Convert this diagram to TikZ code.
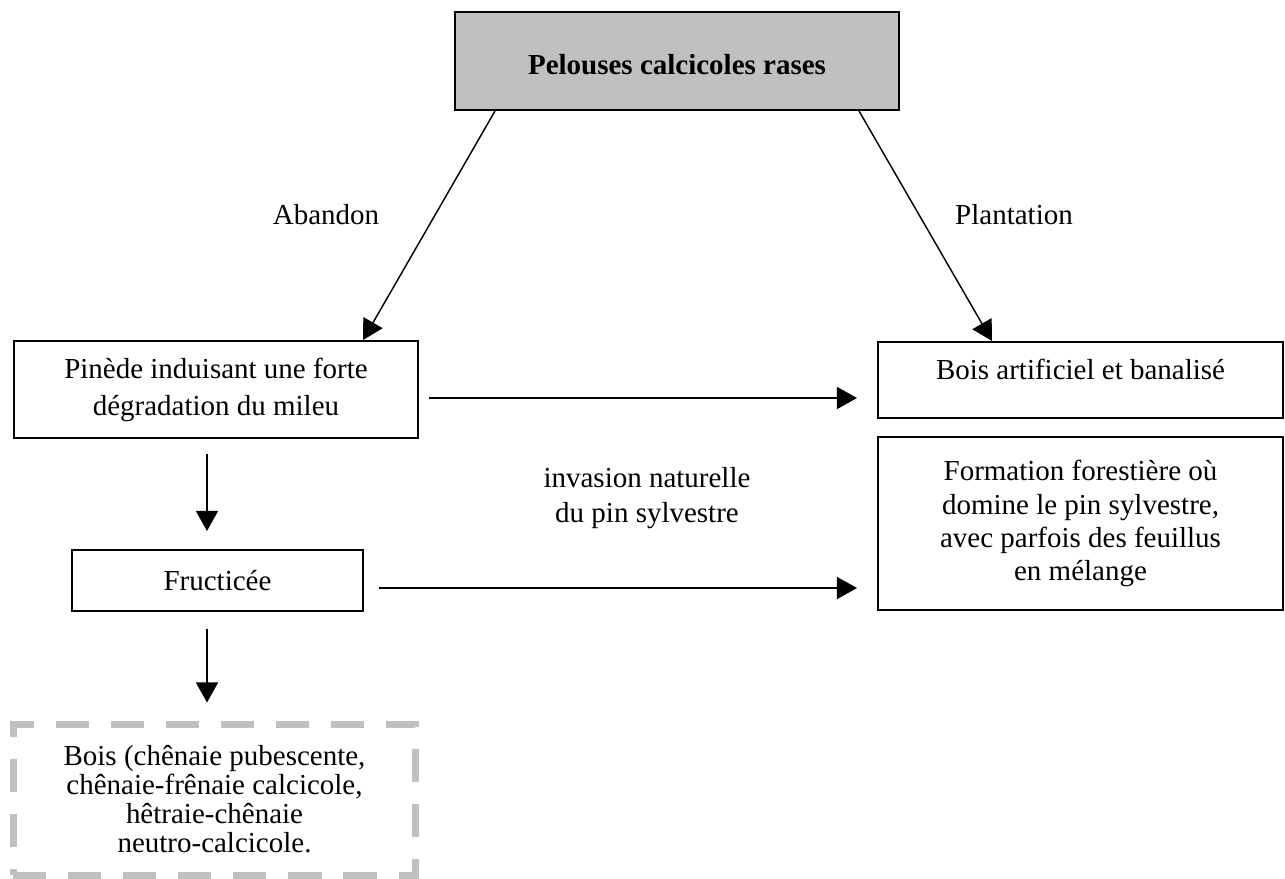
\documentclass[tikz,border=0pt]{standalone}
\usepackage{fontspec}
\setmainfont{Liberation Serif}
\usepackage{tikz}
\usetikzlibrary{arrows.meta, calc, positioning}

\definecolor{lightgrey}{HTML}{C0C0C0}

\begin{document}
\begin{tikzpicture}[x=0.414pt, y=-0.414pt, font=\fontsize{12}{14.5}\selectfont]
	\tikzset{
		box/.style={draw, line width=0.8pt, align=center, inner sep=0pt, minimum width=167.7pt},
		dashbox/.style={draw=lightgrey, line width=2.9pt, dash pattern=on 13.7pt off 9.1pt, align=center, inner sep=0pt},
		flow/.style={-{Triangle[length=8.3pt, width=9.1pt]}, line width=0.6pt},
	}
	\useasboundingbox (0,0) rectangle (1285,878);

	% boxes
	\node[box, fill=lightgrey, minimum width=183.8pt, minimum height=40.6pt, font=\fontsize{12}{14.5}\selectfont\bfseries, text height=14pt, text depth=2.6pt] (pelouses) at (677,61) {Pelouses calcicoles rases};
	\node[box, minimum width=167.3pt, minimum height=40.2pt, font=\fontsize{12}{15.3}\selectfont] (pinede) at (216,389.5) {Pin\`ede induisant une forte\\d\'egradation du mileu};
	\node[box, minimum height=31.5pt, text height=8.2pt, text depth=8.4pt] (bois) at (1080.5,380) {Bois artificiel et banalis\'e};
	\node[box, minimum height=71.6pt, font=\fontsize{12}{13.7}\selectfont] (formation) at (1080.5,523.5) {Formation foresti\`ere o\`u\\domine le pin sylvestre,\\avec parfois des feuillus\\en m\'elange};
	\node[box, minimum width=120.5pt, minimum height=25.3pt] (fructicee) at (217.5,580.5) {Fructic\'ee};
	\node[dashbox, minimum width=166.8pt, minimum height=62.5pt, font=\fontsize{12}{12}\selectfont] (chenaie) at (214.5,799.5) {Bois (ch\^enaie pubescente,\\ch\^enaie-fr\^enaie calcicole,\\h\^etraie-ch\^enaie\\neutro-calcicole.};

	% labels
	\node (abandon) at (326,215) {Abandon};
	\node (plantation) at (1014,215) {Plantation};
	\node[align=center] (invasion) at (647,498) {invasion naturelle\\du pin sylvestre};

	% arrows
	\draw[flow] ($(pelouses.south)+(-182,0)$) -- ($(pinede.north)+(147,0)$);
	\draw[flow] ($(pelouses.south)+(182,0)$) -- ($(bois.north)+(-88.5,0)$);
	\draw[flow] ($(pinede.east)+(10,8.5)$) -- ($(bois.west)+(-20,18)$);
	\draw[flow] ($(fructicee.east)+(15,7.5)$) -- ($(formation.west)+(-20,64.5)$);
	\draw[flow] ($(pinede.south)+(-9,15)$) -- ($(fructicee.north)+(-10.5,-18)$);
	\draw[flow] ($(fructicee.south)+(-10.5,17)$) -- ($(chenaie.north)+(-7.5,-18)$);
\end{tikzpicture}
\end{document}
